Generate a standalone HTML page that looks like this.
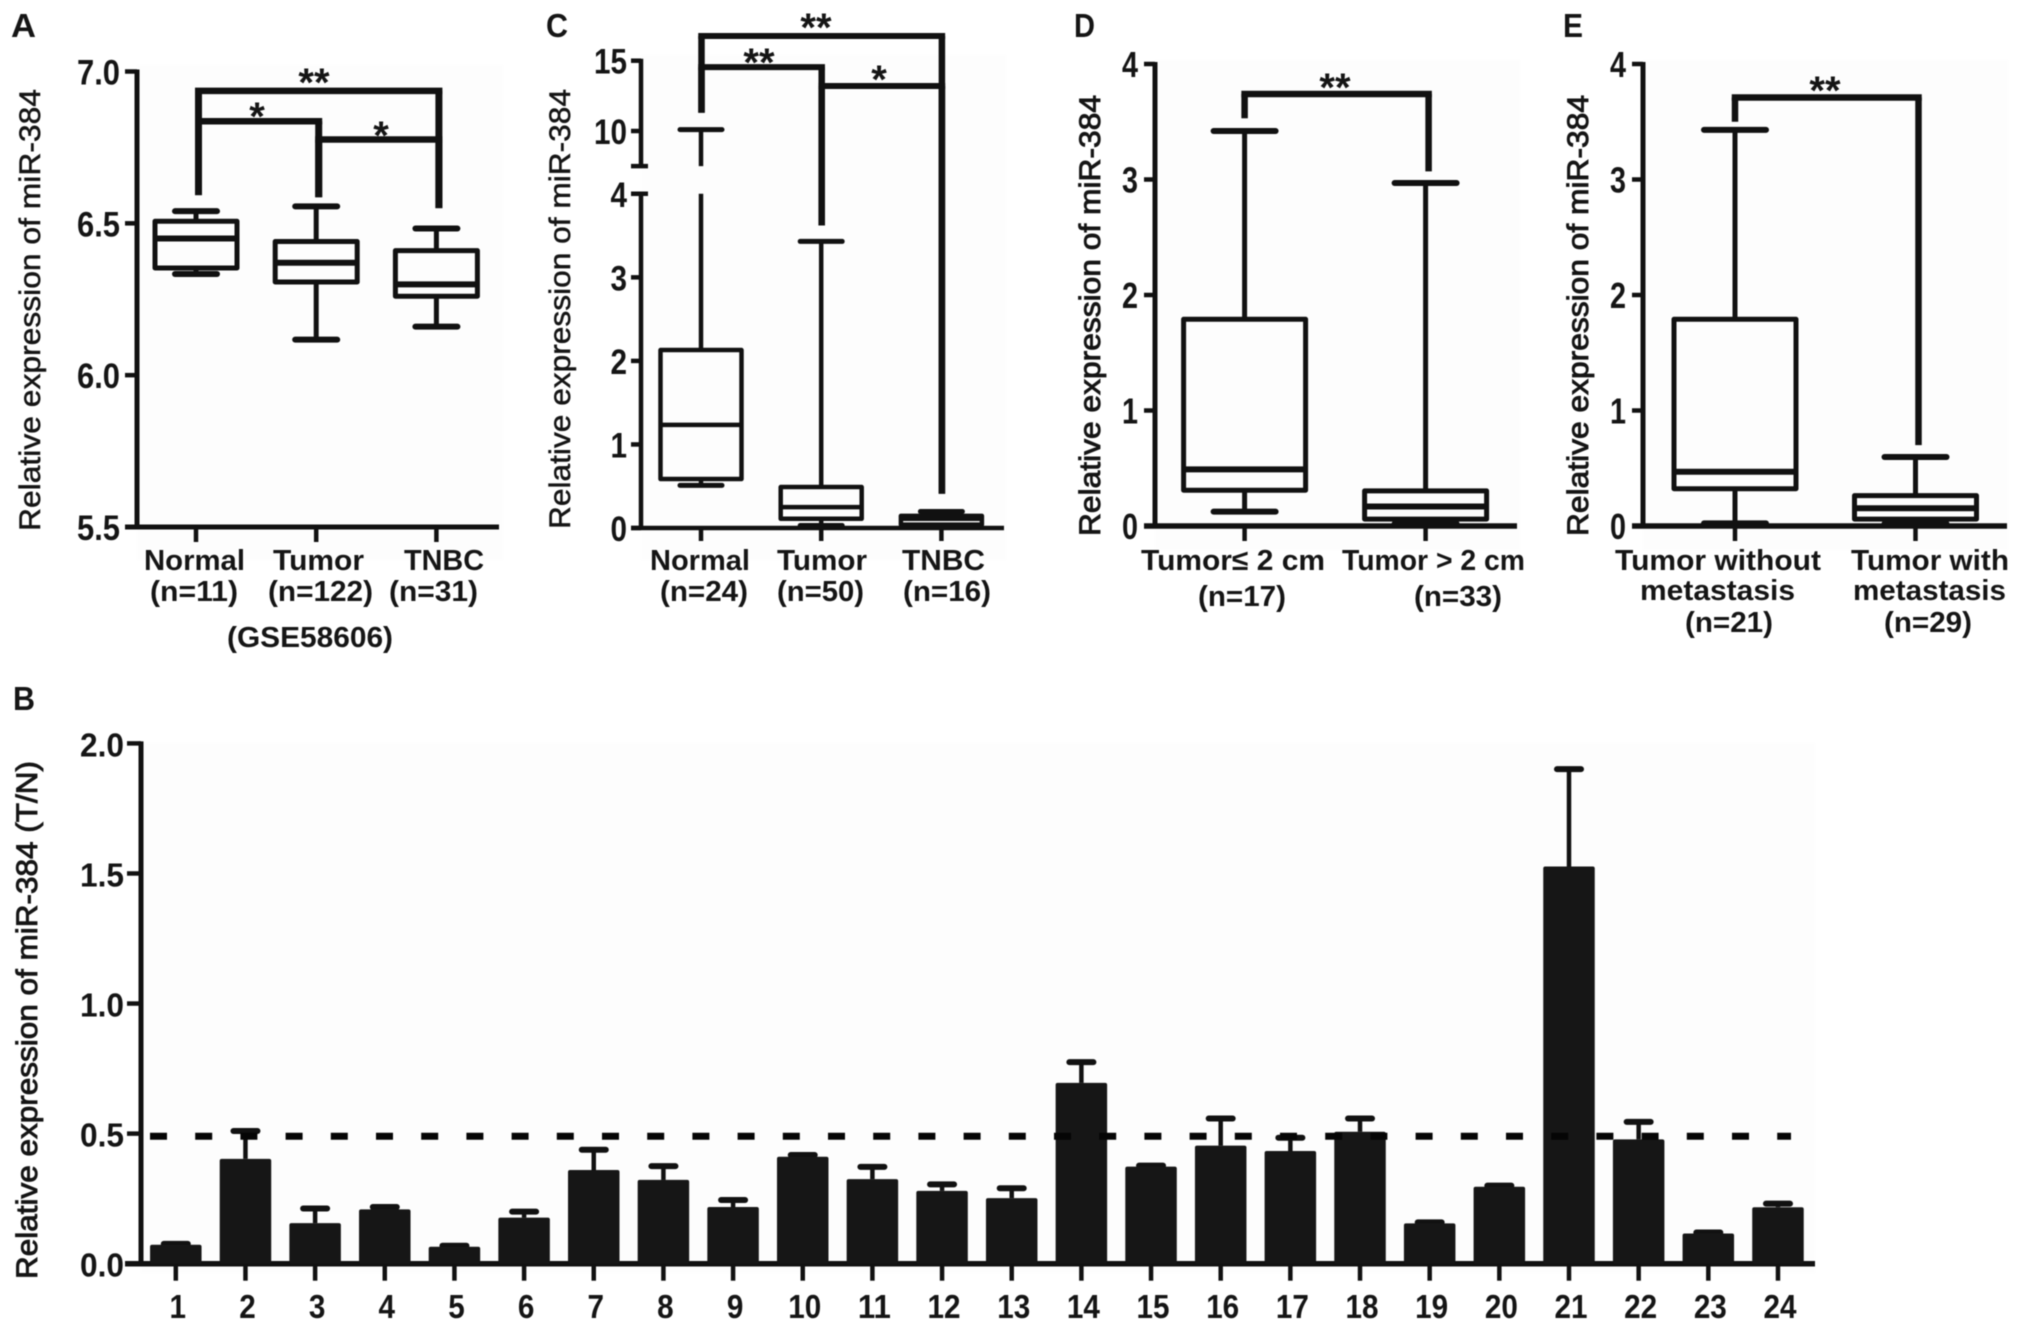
<!DOCTYPE html>
<html lang="en">
<head>
<meta charset="utf-8">
<title>Relative expression of miR-384</title>
<style>
html,body{margin:0;padding:0;background:#fff;}
svg{display:block;filter:blur(.6px);}
text{font-family:"Liberation Sans",Arial,sans-serif;fill:#151515;}
.letter{font-size:33px;font-weight:bold;}
.title{font-size:30px;stroke:#151515;stroke-width:.5px;}
.title.heavy{stroke-width:.9px;}
.cat{font-size:29px;font-weight:bold;}
.star{font-size:40px;font-weight:bold;text-anchor:middle;}
</style>
</head>
<body>
<svg id="figure" xmlns="http://www.w3.org/2000/svg" width="2031" height="1330" viewBox="0 0 2031 1330">
  <g fill="#fdfdfd">
    <rect x="137" y="65" width="366" height="495"/>
    <rect x="641" y="55" width="365" height="505"/>
    <rect x="1155" y="60" width="365" height="490"/>
    <rect x="1643" y="60" width="365" height="490"/>
    <rect x="141" y="743" width="1674" height="530"/>
  </g>

  <text class="letter" x="11" y="37" textLength="25" lengthAdjust="spacingAndGlyphs">A</text>
  <text class="letter" x="546" y="37" textLength="22" lengthAdjust="spacingAndGlyphs">C</text>
  <text class="letter" x="1074" y="37" textLength="21" lengthAdjust="spacingAndGlyphs">D</text>
  <text class="letter" x="1563" y="37" textLength="20" lengthAdjust="spacingAndGlyphs">E</text>
  <text class="letter" x="13" y="710" textLength="22" lengthAdjust="spacingAndGlyphs">B</text>

  <text class="title" transform="translate(40,531) rotate(-90)" textLength="442" lengthAdjust="spacingAndGlyphs">Relative expression of miR-384</text>
  <text class="title" transform="translate(570,529) rotate(-90)" textLength="440" lengthAdjust="spacingAndGlyphs">Relative expression of miR-384</text>
  <text class="title heavy" transform="translate(1100,536) rotate(-90)" textLength="441" lengthAdjust="spacingAndGlyphs">Relative expression of miR-384</text>
  <text class="title heavy" transform="translate(1588,536) rotate(-90)" textLength="441" lengthAdjust="spacingAndGlyphs">Relative expression of miR-384</text>
  <text class="title heavy" transform="translate(37,1279) rotate(-90)" textLength="518" lengthAdjust="spacingAndGlyphs">Relative expression of miR-384 (T/N)</text>

  <g>
    <text class="cat" x="144" y="570" textLength="101" lengthAdjust="spacingAndGlyphs">Normal</text>
    <text class="cat" x="150" y="601" textLength="88" lengthAdjust="spacingAndGlyphs">(n=11)</text>
    <text class="cat" x="273" y="570" textLength="91" lengthAdjust="spacingAndGlyphs">Tumor</text>
    <text class="cat" x="268" y="601" textLength="105" lengthAdjust="spacingAndGlyphs">(n=122)</text>
    <text class="cat" x="404" y="570" textLength="80" lengthAdjust="spacingAndGlyphs">TNBC</text>
    <text class="cat" x="389" y="601" textLength="89" lengthAdjust="spacingAndGlyphs">(n=31)</text>
    <text class="cat" x="227" y="647" textLength="166" lengthAdjust="spacingAndGlyphs">(GSE58606)</text>
  </g>
  <g>
    <text class="cat" x="650" y="570" textLength="100" lengthAdjust="spacingAndGlyphs">Normal</text>
    <text class="cat" x="660" y="601" textLength="88" lengthAdjust="spacingAndGlyphs">(n=24)</text>
    <text class="cat" x="777" y="570" textLength="90" lengthAdjust="spacingAndGlyphs">Tumor</text>
    <text class="cat" x="777" y="601" textLength="87" lengthAdjust="spacingAndGlyphs">(n=50)</text>
    <text class="cat" x="902" y="570" textLength="83" lengthAdjust="spacingAndGlyphs">TNBC</text>
    <text class="cat" x="903" y="601" textLength="88" lengthAdjust="spacingAndGlyphs">(n=16)</text>
  </g>
  <g>
    <text class="cat" x="1141" y="570" textLength="184" lengthAdjust="spacingAndGlyphs">Tumor≤ 2 cm</text>
    <text class="cat" x="1198" y="606" textLength="88" lengthAdjust="spacingAndGlyphs">(n=17)</text>
    <text class="cat" x="1342" y="570" textLength="183" lengthAdjust="spacingAndGlyphs">Tumor &gt; 2 cm</text>
    <text class="cat" x="1414" y="606" textLength="88" lengthAdjust="spacingAndGlyphs">(n=33)</text>
  </g>
  <g>
    <text class="cat" x="1615" y="570" textLength="206" lengthAdjust="spacingAndGlyphs">Tumor without</text>
    <text class="cat" x="1640" y="600" textLength="155" lengthAdjust="spacingAndGlyphs">metastasis</text>
    <text class="cat" x="1685" y="632" textLength="88" lengthAdjust="spacingAndGlyphs">(n=21)</text>
    <text class="cat" x="1851" y="570" textLength="158" lengthAdjust="spacingAndGlyphs">Tumor with</text>
    <text class="cat" x="1853" y="600" textLength="153" lengthAdjust="spacingAndGlyphs">metastasis</text>
    <text class="cat" x="1884" y="632" textLength="88" lengthAdjust="spacingAndGlyphs">(n=29)</text>
  </g>

  <g>
    <text class="star" x="314" y="96">**</text>
    <text class="star" x="257" y="130">*</text>
    <text class="star" x="381" y="149">*</text>
    <text class="star" x="816" y="41">**</text>
    <text class="star" x="759" y="76">**</text>
    <text class="star" x="879" y="93">*</text>
    <text class="star" x="1335" y="101">**</text>
    <text class="star" x="1825" y="104">**</text>
  </g>
</svg>

<script>
// Panel A
const panelACategories = ['Normal', 'Tumor', 'TNBC'];
const panelAHigh = [6.54, 6.556, 6.483];
const panelAQ3 = [6.507, 6.44, 6.41];
const panelAMedian = [6.45, 6.37, 6.299];
const panelAQ1 = [6.353, 6.307, 6.26];
const panelALow = [6.333, 6.117, 6.16];
const panelATicks = ['5.5', '6.0', '6.5', '7.0'];
const panelABrackets = [[0, 2, 6.936, 6.593, 6.55], [0, 1, 6.836, 6.593, 6.586], [1, 2, 6.776, 6.586, 6.55]];

// Panel C (broken axis)
const panelCCategories = ['Normal', 'Tumor', 'TNBC'];
const panelCHigh = [10.1, 3.43, 0.197];
const panelCQ3 = [2.13, 0.49, 0.145];
const panelCMedian = [1.235, 0.25, 0.11];
const panelCQ1 = [0.586, 0.11, 0.04];
const panelCLow = [0.51, 0.03, 0.02];
const panelCTicks = ['0', '1', '2', '3', '4', '10', '15'];
const panelCBreakValues = [4, 7.5];
const panelCBrackets = [[0, 2, 16.76, 11.3, 0.41], [0, 1, 14.54, 11.3, 3.62], [1, 2, 13.2, 3.62, 0.41]];

// Panel D
const panelDCategories = ['Tumor-small', 'Tumor-large'];
const panelDHigh = [3.42, 2.97];
const panelDQ3 = [1.79, 0.304];
const panelDMedian = [0.49, 0.169];
const panelDQ1 = [0.31, 0.06];
const panelDLow = [0.124, 0.02];
const panelDTicks = ['0', '1', '2', '3', '4'];
const panelDBrackets = [[0, 1, 3.74, 3.53, 3.07]];

// Panel E
const panelECategories = ['Without-metastasis', 'With-metastasis'];
const panelEHigh = [3.43, 0.597];
const panelEQ3 = [1.79, 0.263];
const panelEMedian = [0.47, 0.154];
const panelEQ1 = [0.323, 0.06];
const panelELow = [0.023, 0.02];
const panelETicks = ['0', '1', '2', '3', '4'];
const panelEBrackets = [[0, 1, 3.71, 3.50, 0.70]];

// Panel B
const panelBSamples = ['1','2','3','4','5','6','7','8','9','10','11','12','13','14','15','16','17','18','19','20','21','22','23','24'];
const panelBValues = [0.073,0.403,0.156,0.209,0.065,0.177,0.36,0.322,0.218,0.411,0.325,0.28,0.252,0.695,0.373,0.454,0.433,0.507,0.155,0.296,1.527,0.478,0.116,0.217];
const panelBErrorTops = [0.076,0.51,0.212,0.218,0.069,0.2,0.438,0.375,0.245,0.418,0.372,0.305,0.29,0.775,0.377,0.558,0.484,0.558,0.159,0.3,1.901,0.545,0.12,0.231];
const panelBTicks = ['0.0', '0.5', '1.0', '1.5', '2.0'];
const panelBReference = [0.49];

const INK = '#111';
const SVGNS = 'http://www.w3.org/2000/svg';
const root = document.getElementById('figure');

function make(parent, tag, attrs) {
  const node = document.createElementNS(SVGNS, tag);
  for (const key in attrs) node.setAttribute(key, attrs[key]);
  parent.appendChild(node);
  return node;
}
function line(parent, x1, y1, x2, y2, width, name, cap) {
  const node = make(parent, 'line', { x1, y1, x2, y2, stroke: INK, 'stroke-width': width, 'stroke-linecap': cap || 'butt' });
  
  
  return node;
}
function group(parent, name) {
  const node = make(parent, 'g', {});
  
  
  return node;
}
function tickText(parent, label, x, y, size, charW, anchor) {
  const dots = (label.match(/\./g) || []).length;
  const digits = label.length - dots;
  const node = make(parent, 'text', {
    x, y, 'text-anchor': anchor, 'font-size': size, 'font-weight': 'bold',
    textLength: digits * charW + dots * charW / 2, lengthAdjust: 'spacingAndGlyphs'
  });
  node.textContent = label;
  
  
  return node;
}
function linear(d0, d1, r0, r1) {
  return v => r0 + (v - d0) * (r1 - r0) / (d1 - d0);
}

function drawBox(g, cx, y, hi, q3, med, q1, lo, o, broken) {
  const sw = o.sw;
  const box = make(g, 'rect', { x: cx - o.boxHalf, y: y(q3), width: o.boxHalf * 2, height: y(q1) - y(q3), fill: 'none', stroke: INK, 'stroke-width': sw, 'stroke-linejoin': 'round' });
  
  
  line(g, cx - o.boxHalf, y(med), cx + o.boxHalf, y(med), o.medW || sw, 'median');
  if (broken && hi > broken[1]) {
    line(g, cx, y(q3), cx, y(broken[0]), sw, 'upper-whisker');
    line(g, cx, y(broken[1]), cx, y(hi), sw, 'upper-whisker-above-break');
  } else {
    line(g, cx, y(q3), cx, y(hi), sw, 'upper-whisker');
  }
  line(g, cx, y(q1), cx, y(lo), sw, 'lower-whisker');
  line(g, cx - o.capHalf, y(hi), cx + o.capHalf, y(hi), o.capW, 'upper-cap', 'round');
  line(g, cx - o.capHalf, y(lo), cx + o.capHalf, y(lo), o.capW, 'lower-cap', 'round');
}

function drawBrackets(g, brackets, x, y, o) {
  brackets.forEach(function (b) {
    const xl = x(b[0]) + o.dxFor(b[0]);
    const xr = x(b[1]) + o.dxFor(b[1]);
    const yTop = y(b[2]);
    const bg = group(g, 'significance-bracket');
    line(bg, xl - o.legW / 2, yTop, xr + o.legW / 2, yTop, o.barW, 'bracket-bar');
    line(bg, xl, yTop, xl, y(b[3]), o.legW, 'bracket-left-leg');
    line(bg, xr, yTop, xr, y(b[4]), o.legW, 'bracket-right-leg');
  });
}

function boxPanel(cfg) {
  const g = group(root, cfg.name);
  const axes = group(g, cfg.name + '-axes');
  const x = i => cfg.x0 + i * cfg.step;
  cfg.drawYAxis(axes);
  line(axes, cfg.xStart, cfg.y(cfg.base), cfg.xEnd, cfg.y(cfg.base), cfg.axisW, 'x-axis');
  cfg.categories.forEach(function (c, i) {
    line(axes, x(i), cfg.y(cfg.base), x(i), cfg.y(cfg.base) + cfg.tickLen, cfg.tickW, 'x-tick');
  });
  cfg.categories.forEach(function (c, i) {
    const bg = group(g, 'box-' + c.toLowerCase());
    drawBox(bg, x(i), cfg.y, cfg.high[i], cfg.q3[i], cfg.median[i], cfg.q1[i], cfg.low[i], cfg.box, cfg.broken);
  });
  drawBrackets(group(g, cfg.name + '-brackets'), cfg.brackets, x, cfg.y, cfg.bracket);
}

// Panel A
const yA = linear(5.5, 7.0, 527, 71.5);
boxPanel({
  name: 'panel-a', categories: panelACategories, high: panelAHigh, q3: panelAQ3, median: panelAMedian, q1: panelAQ1, low: panelALow,
  brackets: panelABrackets, y: yA, base: 5.5, x0: 196, step: 120.2, xStart: 125, xEnd: 499, axisW: 5, tickW: 4.5, tickLen: 15,
  box: { boxHalf: 41, capHalf: 21, sw: 5, capW: 6, medW: 6 },
  bracket: { dxFor: () => 2.5, legW: 7, barW: 6.5 },
  drawYAxis: function (axes) {
    line(axes, 137, yA(7.0) - 2, 137, yA(5.5), 5, 'y-axis');
    panelATicks.forEach(function (t) {
      const v = Number(t);
      line(axes, 125, yA(v), 137, yA(v), 4.5, 'y-tick');
      tickText(axes, t, 120, yA(v) + 13, 35, 17.2, 'end');
    });
  }
});

// Panel C: two linear segments joined at the axis break
const yCLower = linear(0, 4, 528, 193.8);
const yCUpper = linear(10, 15, 131, 60.7);
const yC = v => (v <= panelCBreakValues[0] ? yCLower(v) : yCUpper(v));
boxPanel({
  name: 'panel-c', categories: panelCCategories, high: panelCHigh, q3: panelCQ3, median: panelCMedian, q1: panelCQ1, low: panelCLow,
  brackets: panelCBrackets, y: yC, base: 0, x0: 701, step: 120.2, xStart: 631, xEnd: 1004, axisW: 4.5, tickW: 4.5, tickLen: 13,
  broken: panelCBreakValues,
  box: { boxHalf: 40.5, capHalf: 21, sw: 4.5, capW: 5, medW: 4.5 },
  bracket: { dxFor: () => 0.5, legW: 6.5, barW: 6 },
  drawYAxis: function (axes) {
    line(axes, 641, yC(panelCBreakValues[0]), 641, yC(0), 4.5, 'y-axis-lower');
    line(axes, 641, yC(15) - 2, 641, yC(panelCBreakValues[1]), 4.5, 'y-axis-upper');
    panelCBreakValues.forEach(function (v) {
      line(axes, 631, yC(v), 648, yC(v), 4.5, 'y-axis-break-tick');
    });
    panelCTicks.forEach(function (t) {
      const v = Number(t);
      line(axes, 631, yC(v), 641, yC(v), 4.5, 'y-tick');
      tickText(axes, t, 627, yC(v) + 13, 35, 16.5, 'end');
    });
  }
});

// Panel D
const yD = linear(0, 4, 526, 64);
boxPanel({
  name: 'panel-d', categories: panelDCategories, high: panelDHigh, q3: panelDQ3, median: panelDMedian, q1: panelDQ1, low: panelDLow,
  brackets: panelDBrackets, y: yD, base: 0, x0: 1244.6, step: 181, xStart: 1144, xEnd: 1517, axisW: 5.5, tickW: 4.5, tickLen: 15,
  box: { boxHalf: 61, capHalf: 31, sw: 5, capW: 6, medW: 6 },
  bracket: { dxFor: i => (i === 1 ? 3 : 0), legW: 6.5, barW: 6.5 },
  drawYAxis: function (axes) {
    line(axes, 1155, yD(4) - 2, 1155, yD(0), 5, 'y-axis');
    panelDTicks.forEach(function (t) {
      const v = Number(t);
      line(axes, 1144, yD(v), 1155, yD(v), 4.5, 'y-tick');
      tickText(axes, t, 1138, yD(v) + 13, 36, 16, 'end');
    });
  }
});

// Panel E
const yE = linear(0, 4, 526, 64);
boxPanel({
  name: 'panel-e', categories: panelECategories, high: panelEHigh, q3: panelEQ3, median: panelEMedian, q1: panelEQ1, low: panelELow,
  brackets: panelEBrackets, y: yE, base: 0, x0: 1735, step: 180.5, xStart: 1632, xEnd: 2007, axisW: 5.5, tickW: 4.5, tickLen: 15,
  box: { boxHalf: 61, capHalf: 31, sw: 5, capW: 6, medW: 6 },
  bracket: { dxFor: i => (i === 1 ? 3 : 0), legW: 6.5, barW: 6.5 },
  drawYAxis: function (axes) {
    line(axes, 1643, yE(4) - 2, 1643, yE(0), 5, 'y-axis');
    panelETicks.forEach(function (t) {
      const v = Number(t);
      line(axes, 1632, yE(v), 1643, yE(v), 4.5, 'y-tick');
      tickText(axes, t, 1626, yE(v) + 13, 36, 16, 'end');
    });
  }
});

// Panel B
(function () {
  const y = linear(0, 2, 1263.7, 743.4);
  const x = i => 175.8 + i * 69.66;
  const barW = 51.5;
  const g = group(root, 'panel-b');
  const axes = group(g, 'panel-b-axes');
  line(axes, 141, y(2) - 2, 141, y(0), 5, 'y-axis');
  line(axes, 125, y(0), 1815, y(0), 5.5, 'x-axis');
  panelBTicks.forEach(function (t) {
    const v = Number(t);
    line(axes, 127, y(v), 141, y(v), 4.5, 'y-tick');
    tickText(axes, t, 124, y(v) + 13, 33, 17.6, 'end');
  });
  panelBSamples.forEach(function (s, i) {
    const bg = group(g, 'sample-' + s);
    line(bg, x(i), y(panelBValues[i]), x(i), y(panelBErrorTops[i]), 4.5, 'error-stem');
    line(bg, x(i) - 12, y(panelBErrorTops[i]), x(i) + 12, y(panelBErrorTops[i]), 6, 'error-cap', 'round');
    const bar = make(bg, 'rect', { x: x(i) - barW / 2, y: y(panelBValues[i]), width: barW, height: y(0) - y(panelBValues[i]), rx: 2, fill: '#161616' });
    
    
    line(bg, x(i), y(0), x(i), y(0) + 17, 4.5, 'x-tick');
    const label = tickText(bg, s, x(i) + 2, 1318, 33, 16.5, 'middle');
    
  });
  const ref = line(g, 150, y(panelBReference[0]), 1791, y(panelBReference[0]), 7, 'reference-line');
  ref.setAttribute('stroke-dasharray', '17 28.2');
  ref.setAttribute('stroke', '#050505');
})();
</script>
</body>
</html>
